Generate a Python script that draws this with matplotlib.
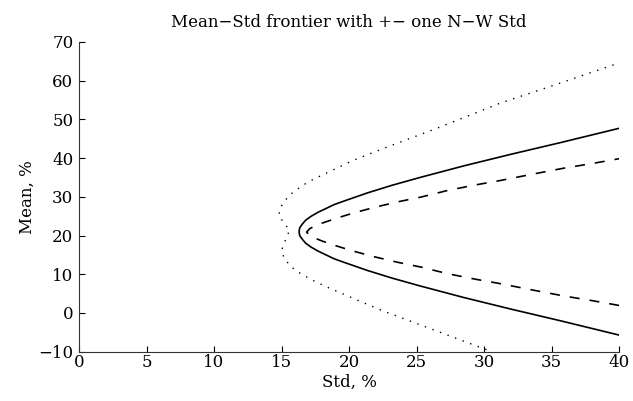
import matplotlib
matplotlib.use("Agg")
import matplotlib.pyplot as plt

# Frontier (solid): std %, mean %
solid_std = [40.0, 35.65, 32.0, 28.5, 25.25, 23.2, 21.35, 19.7, 18.9, 18.3, 17.7, 17.2, 16.8,
             16.55, 16.35, 16.3,
             16.35, 16.55, 16.8, 17.2, 17.7, 18.3, 18.9, 19.7, 21.35, 23.2, 25.25, 28.5,
             32.0, 35.65, 40.0]
solid_mean = [-5.7, -2.0, 1.0, 4.0, 7.0, 9.0, 11.0, 13.0, 14.0, 15.0, 16.0, 17.0, 18.0,
              19.0, 20.0, 21.0,
              22.0, 23.0, 24.0, 25.0, 26.0, 27.0, 28.0, 29.0, 31.0, 33.0, 35.0, 38.0,
              41.0, 44.0, 47.7]

# Frontier + one N-W std (dashed)
dash_std = [40.0, 38.0, 35.9, 33.5, 31.1, 29.4, 27.3, 25.4, 23.6, 21.9, 20.3, 19.0, 18.0,
            17.5, 17.1, 16.86,
            17.1, 17.5, 18.0, 19.0, 20.3, 21.9, 23.6, 25.4, 27.3, 29.4, 31.1, 33.5, 35.9,
            38.0, 40.0]
dash_mean = [1.95, 3.2, 4.4, 6.0, 7.65, 8.7, 10.15, 11.8, 13.1, 14.5, 16.0, 17.4, 18.6,
             19.3, 20.0, 20.9,
             21.8, 22.5, 23.2, 24.4, 25.8, 27.3, 28.7, 30.0, 31.65, 33.1, 34.15, 35.8, 37.4,
             38.6, 39.85]

# Frontier - one N-W std (dotted)
dot_std = [39.6, 35.4, 31.2, 26.5, 22.4, 20.3, 18.3, 17.4, 16.6, 15.8, 15.2, 14.9, 14.8,
           15.2, 15.6, 15.2, 15.0, 15.2, 15.6, 16.0, 16.6, 17.4, 18.3, 20.3, 22.4, 26.0,
           29.5, 30.6]
dot_mean = [64.1, 59.1, 54.2, 47.7, 42.3, 39.4, 36.1, 34.6, 33.05, 31.0, 28.9, 27.0, 25.1,
            23.2, 21.4, 18.1, 16.1, 14.1, 12.4, 11.1, 9.8, 8.3, 6.8, 3.8, 0.7, -4.0,
            -8.6, -10.0]

xticks = [0, 5, 10, 15, 20, 25, 30, 35, 40]
yticks = [-10, 0, 10, 20, 30, 40, 50, 60, 70]

plt.rcParams['font.family'] = ['DejaVu Serif']
plt.rcParams['axes.unicode_minus'] = True

fig = plt.figure(figsize=(6.33, 4.01), dpi=100)
ax = fig.add_axes([79/633, 1-351.7/401, (619-79)/633, (351.7-42)/401])

ax.plot(solid_std, solid_mean, color='black', lw=1.2, ls='-')
ax.plot(dash_std, dash_mean, color='black', lw=1.2, ls=(0, (6.0, 6.0)))
ax.plot(dot_std, dot_mean, color='black', lw=1.0, ls=(0, (1.0, 4.8)))

ax.set_xlim(0, 40)
ax.set_ylim(-10, 70)
ax.set_xticks(xticks)
ax.set_yticks(yticks)
ax.set_xticklabels([str(v) for v in xticks])
ax.set_yticklabels([str(v).replace('-', '\u2212') for v in yticks])
ax.spines['top'].set_visible(False)
ax.spines['right'].set_visible(False)
for s in ('left', 'bottom'):
    ax.spines[s].set_linewidth(0.8)
    ax.spines[s].set_color('#333333')
ax.tick_params(direction='in', length=4, width=0.8, labelsize=12, pad=2, colors='black')
ax.tick_params(axis='y', pad=4)

ax.set_xlabel('Std, %', fontsize=12, labelpad=2)
ax.set_ylabel('Mean, %', fontsize=12, labelpad=2)
ax.set_title('Mean\u2212Std frontier with +\u2212 one N\u2212W Std', fontsize=12, pad=11)

fig.savefig('out.png', dpi=100)
